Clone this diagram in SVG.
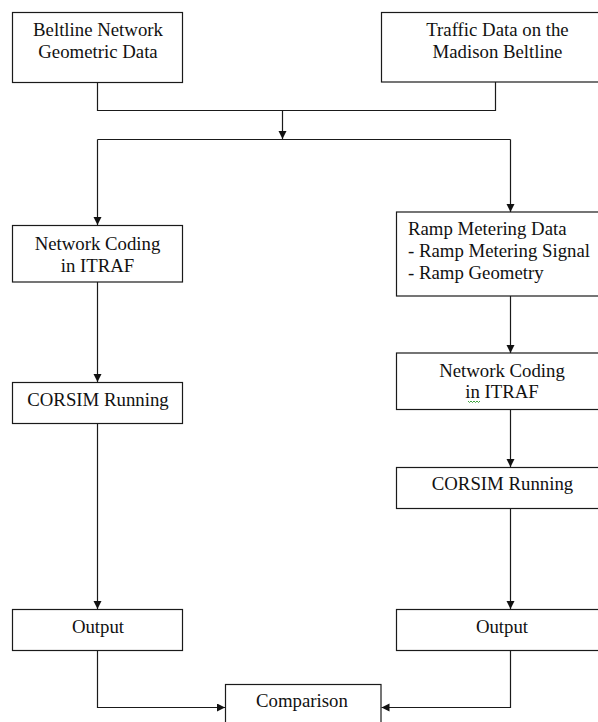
<svg xmlns="http://www.w3.org/2000/svg" width="598" height="722" viewBox="0 0 598 722">
<style>
.box{fill:#fff;stroke:#1a1a1a;stroke-width:1.2}
.t{font-family:"Liberation Serif","Times New Roman",serif;font-size:18.8px;fill:#111;text-anchor:middle}
.tl{text-anchor:start}
.c{fill:none;stroke:#1a1a1a;stroke-width:1.2}
.ca{fill:none;stroke:#1a1a1a;stroke-width:1.2;marker-end:url(#ah)}
</style>
<defs>
<marker id="ah" markerUnits="userSpaceOnUse" markerWidth="9" markerHeight="9" refX="8" refY="4" orient="auto">
<path d="M0,0 L8,4 L0,8 z" fill="#111"/>
</marker>
</defs>
<rect width="598" height="722" fill="#fff"/>
<g id="connectors">
<path class="c" d="M97.5,83 V110.5 H495.5 V82"/>
<path class="ca" d="M282.5,110.5 V139"/>
<path class="c" d="M97.5,139.5 H510.5"/>
<path class="ca" d="M97.5,139.5 V225"/>
<path class="ca" d="M510.5,139.5 V212"/>
<path class="ca" d="M97.5,282 V382"/>
<path class="ca" d="M97.5,423.5 V609"/>
<path class="ca" d="M97.5,651 V707.5 H225"/>
<path class="ca" d="M510.5,296 V353"/>
<path class="ca" d="M510.5,409.5 V467"/>
<path class="ca" d="M510.5,509 V609"/>
<path class="ca" d="M510.5,651 V707.5 H381.5"/>
</g>
<g id="n1">
<rect class="box" x="12.5" y="12.5" width="170" height="70"/>
<text class="t" x="98" y="36">Beltline Network</text>
<text class="t" x="98" y="58">Geometric Data</text>
</g>
<g id="n2">
<rect class="box" x="381.5" y="12.5" width="240" height="69.5"/>
<text class="t" x="497.5" y="36">Traffic Data on the</text>
<text class="t" x="497.5" y="58">Madison Beltline</text>
</g>
<g id="n3">
<rect class="box" x="12.5" y="225.5" width="170" height="56.5"/>
<text class="t" x="97.5" y="250">Network Coding</text>
<text class="t" x="97.5" y="272">in ITRAF</text>
</g>
<g id="n4">
<rect class="box" x="396.5" y="212" width="230" height="84"/>
<text class="t tl" x="408" y="235">Ramp Metering Data</text>
<text class="t tl" x="408" y="257">- Ramp Metering Signal</text>
<text class="t tl" x="408" y="279">- Ramp Geometry</text>
</g>
<g id="n5">
<rect class="box" x="12.5" y="382.5" width="170" height="41"/>
<text class="t" x="98" y="406">CORSIM Running</text>
</g>
<g id="n6">
<rect class="box" x="396.5" y="353" width="230" height="56.5"/>
<text class="t" x="502" y="377">Network Coding</text>
<text class="t" x="502" y="398">in ITRAF</text>
<path d="M468,401 l1.5,1.5 l1.5,-1.5 l1.5,1.5 l1.5,-1.5 l1.5,1.5 l1.5,-1.5 l1.5,1.5 l1.5,-1.5" fill="none" stroke="#2a9a2a" stroke-width="0.9"/>
</g>
<g id="n7">
<rect class="box" x="396.5" y="467.5" width="230" height="41"/>
<text class="t" x="502.5" y="490">CORSIM Running</text>
</g>
<g id="n8">
<rect class="box" x="12.5" y="609.5" width="170" height="41"/>
<text class="t" x="98" y="633">Output</text>
</g>
<g id="n9">
<rect class="box" x="396.5" y="609.5" width="230" height="41"/>
<text class="t" x="502" y="633">Output</text>
</g>
<g id="n10">
<rect class="box" x="225.5" y="684.5" width="155.5" height="60"/>
<text class="t" x="302" y="707">Comparison</text>
</g>
</svg>
